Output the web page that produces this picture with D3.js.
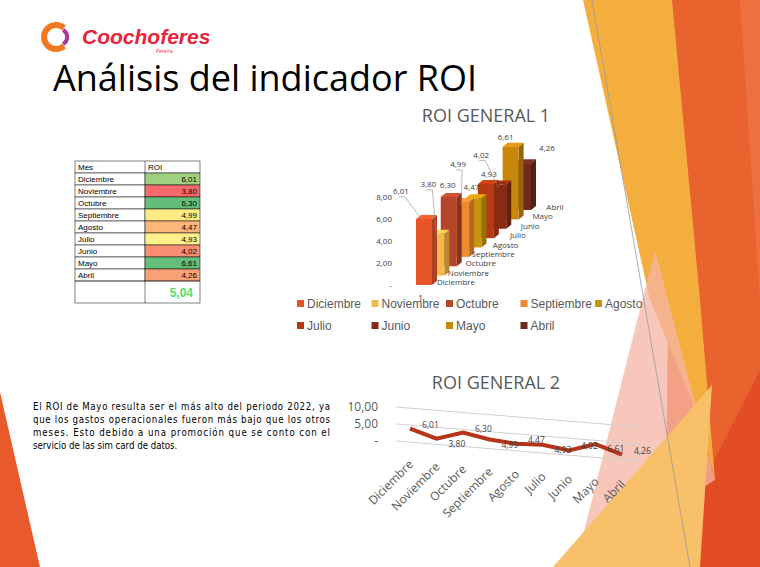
<!DOCTYPE html>
<html><head><meta charset="utf-8">
<script src="https://cdn.jsdelivr.net/npm/d3@7"></script>
<style>body{margin:0;background:#fff}svg{display:block;font-family:"Open Sans",sans-serif}</style>
</head><body>
<script>
// data
var months = ["Diciembre","Noviembre","Octubre","Septiembre","Agosto","Julio","Junio","Mayo","Abril"];
var roi = [6.01, 3.80, 6.30, 4.99, 4.47, 4.93, 4.02, 6.61, 4.26];
var roiAvg = 5.04;
var barColors = ["#e8542a","#f5b84a","#b5462a","#f08a30","#c8960c","#b83a12","#8a2a14","#c8860a","#6e2a1a"];
var cellColors = ["#9fd07f","#f8696b","#63be7b","#ffeb84","#fcb57a","#fff08a","#f98e72","#63be7b","#f9a175"];
var axis1Ticks = [2, 4, 6, 8];
var axis2Ticks = [5, 10];
var labelOffsets = [[-23,-25],[-8,-47],[-1,-9],[-3,-35],[-2,-8],[3,-7],[-17,-27],[-5,-7],[24,-12]];

var fmt = function (v) { return v.toFixed(2).replace(".", ","); };

var svg = d3.select("body").append("svg").attr("width", 760).attr("height", 567);

// background shapes
svg.append("polygon").attr("points", "672,0 760,0 760,567 665,567").attr("fill", "#e9632e");
svg.append("polygon").attr("points", "740,0 760,0 760,300").attr("fill", "#ec7040");
svg.append("polygon").attr("points", "760,370 760,567 660,567").attr("fill", "#e34d26");
svg.append("polygon").attr("points", "583,0 672,0 700,300 715,480 700,420 650,300").attr("fill", "#f4ae3e");
svg.append("polygon").attr("points", "655,250 715,480 575,567").attr("fill", "#f5b4a6").attr("opacity", 0.75);
svg.append("polygon").attr("points", "553,567 712,385 700,567").attr("fill", "#f9c06a");
svg.append("polygon").attr("points", "0,392 40,567 0,567").attr("fill", "#e9592c");
svg.append("line").attr("x1", 592).attr("y1", 0).attr("x2", 690).attr("y2", 567).attr("stroke", "#999").attr("stroke-width", 0.8);

// logo
var logo = svg.append("g");
logo.append("path").attr("d", "M64,28 A12,12 0 1,0 64,46").attr("fill", "none").attr("stroke", "#f07820").attr("stroke-width", 6);
logo.append("path").attr("d", "M63,30 A8,8 0 0,1 63,44").attr("fill", "none").attr("stroke", "#a83a9a").attr("stroke-width", 4);
logo.append("text").attr("x", 82).attr("y", 44).attr("font-size", 21).attr("font-weight", "bold").attr("font-style", "italic")
  .attr("fill", "#e8233a").attr("font-family", "Liberation Sans").text("Coochoferes");
logo.append("text").attr("x", 156).attr("y", 53).attr("font-size", 5).attr("fill", "#e8233a").text("Pereira");

svg.append("text").attr("x", 53).attr("y", 91).attr("font-size", 36).attr("fill", "#000").text("Análisis del indicador ROI");

// table
var tbl = svg.append("g").attr("font-size", 8).attr("font-family", "Liberation Sans");
var rowH = 12, tx = 75, ty = 161;
tbl.append("rect").attr("x", tx).attr("y", ty).attr("width", 125).attr("height", rowH).attr("fill", "#fff").attr("stroke", "#000").attr("stroke-width", 0.5);
tbl.append("line").attr("x1", 145).attr("x2", 145).attr("y1", ty).attr("y2", ty + rowH * 10 + 22).attr("stroke", "#000").attr("stroke-width", 0.5);
tbl.append("text").attr("x", tx + 3).attr("y", ty + 9).text("Mes");
tbl.append("text").attr("x", 148).attr("y", ty + 9).text("ROI");
months.forEach(function (m, i) {
  var y = ty + rowH * (i + 1);
  tbl.append("rect").attr("x", tx).attr("y", y).attr("width", 70).attr("height", rowH).attr("fill", "#fff").attr("stroke", "#000").attr("stroke-width", 0.5);
  tbl.append("rect").attr("x", 145).attr("y", y).attr("width", 55).attr("height", rowH).attr("fill", cellColors[i]).attr("stroke", "#000").attr("stroke-width", 0.5);
  tbl.append("text").attr("x", tx + 3).attr("y", y + 9).text(m);
  tbl.append("text").attr("x", 197).attr("y", y + 9).attr("text-anchor", "end").text(fmt(roi[i]));
});
tbl.append("rect").attr("x", tx).attr("y", ty + rowH * 10).attr("width", 125).attr("height", 22).attr("fill", "none").attr("stroke", "#000").attr("stroke-width", 0.5);
tbl.append("text").attr("x", 193).attr("y", ty + rowH * 10 + 16).attr("text-anchor", "end").attr("font-size", 12)
  .attr("font-weight", "bold").attr("fill", "#4ee06a").text(fmt(roiAvg));

// ---- ROI GENERAL 1 (pseudo 3D columns) ----
svg.append("text").attr("x", 486).attr("y", 122).attr("text-anchor", "middle").attr("font-size", 18).attr("fill", "#595959").text("ROI GENERAL 1");
var y1 = d3.scaleLinear().domain([0, 8]).range([285, 197]);
var depth = d3.scaleLinear().domain([0, months.length - 1]).range([0, 1]);
var dxMax = 99, dyMax = -75, bw = 16, sd = 5;
var c1 = svg.append("g").attr("font-size", 8).attr("fill", "#404040");
axis1Ticks.forEach(function (t) {
  c1.append("text").attr("x", 392).attr("y", y1(t) + 3).attr("text-anchor", "end").text(fmt(t));
});
c1.append("text").attr("x", 392).attr("y", y1(0) + 3).attr("text-anchor", "end").text("-");
c1.append("text").attr("x", 418).attr("y", 302).attr("font-size", 9).text("1");
// draw back to front
d3.range(months.length - 1, -1, -1).forEach(function (i) {
  var ox = 416 + depth(i) * dxMax, oy = depth(i) * dyMax;
  var top = y1(roi[i]) + oy, base = y1(0) + oy;
  var col = d3.color(barColors[i]);
  c1.append("polygon").attr("points", [[ox + bw, top], [ox + bw + sd, top - 4], [ox + bw + sd, base - 4], [ox + bw, base]].join(" ")).attr("fill", col.darker(0.8));
  c1.append("polygon").attr("points", [[ox, top], [ox + sd, top - 4], [ox + bw + sd, top - 4], [ox + bw, top]].join(" ")).attr("fill", col.brighter(0.4));
  c1.append("rect").attr("x", ox).attr("y", top).attr("width", bw).attr("height", base - top).attr("fill", col);
  c1.append("text").attr("x", ox + 40).attr("y", base).attr("text-anchor", "middle").text(months[i]);
});
months.forEach(function (m, i) {
  var ox = 416 + depth(i) * dxMax, oy = depth(i) * dyMax;
  var top = y1(roi[i]) + oy, xc = ox + bw / 2;
  var lx = xc + labelOffsets[i][0], ly = top + labelOffsets[i][1];
  if (labelOffsets[i][1] < -12) {
    c1.append("polyline").attr("points", [[xc, top + 3], [lx + 4, ly + 3], [lx - 2, ly + 3]].join(" ")).attr("fill", "none").attr("stroke", "#8a8a8a").attr("stroke-width", 0.6);
  }
  c1.append("text").attr("x", lx).attr("y", ly).attr("text-anchor", "middle").text(fmt(roi[i]));
});
// legend
var leg = svg.append("g").attr("font-size", 12).attr("fill", "#595959").attr("font-family", "Liberation Sans");
months.forEach(function (m, i) {
  var col = i % 5, row = Math.floor(i / 5);
  var lx = 297 + col * 74.5, ly = 304 + row * 22;
  leg.append("rect").attr("x", lx).attr("y", ly - 4).attr("width", 7).attr("height", 7).attr("fill", barColors[i]);
  leg.append("text").attr("x", lx + 10).attr("y", ly + 4).text(m);
});

// paragraph
var para = ["El ROI de Mayo resulta ser el más alto del periodo 2022, ya",
  "que los gastos operacionales fueron más bajo que los otros",
  "meses. Esto debido a una promoción que se conto con el",
  "servicio de las sim card de datos."];
svg.append("g").attr("font-size", 9.6).attr("font-family", "DejaVu Sans Condensed, sans-serif").selectAll("text").data(para).enter().append("text")
  .attr("x", 33).attr("y", function (d, i) { return 410 + i * 13; })
  .attr("textLength", function (d, i) { return i < 3 ? 297 : null; })
  .text(function (d) { return d; });

// ---- ROI GENERAL 2 (line with slanted floor) ----
svg.append("text").attr("x", 496).attr("y", 389).attr("text-anchor", "middle").attr("font-size", 18).attr("fill", "#595959").text("ROI GENERAL 2");
var x2 = d3.scalePoint().domain(months).range([410, 622]);
var y2 = d3.scaleLinear().domain([0, 10]).range([0, -34]);
var skew = 2.5, base2 = 449;
var by = function (i) { return base2 + i * skew; };
var c2 = svg.append("g").attr("font-size", 12).attr("fill", "#595959");
[0].concat(axis2Ticks).forEach(function (t) {
  c2.append("line").attr("x1", 396).attr("y1", base2 - 8 + y2(t)).attr("x2", 640).attr("y2", base2 + 12 + y2(t))
    .attr("stroke", "#d0d0d0").attr("stroke-width", 1);
  c2.append("text").attr("x", 378).attr("y", base2 - 4 + y2(t)).attr("text-anchor", "end").text(t === 0 ? "-" : fmt(t));
});
var line2 = d3.line().x(function (d, i) { return x2(months[i]); }).y(function (d, i) { return by(i) + y2(d); });
c2.append("path").datum(roi).attr("d", line2).attr("fill", "none").attr("stroke", "#b5341a").attr("stroke-width", 4).attr("stroke-linejoin", "miter");
roi.forEach(function (v, i) {
  c2.append("text").attr("x", x2(months[i]) + 12).attr("y", by(i) + y2(v) + (i % 2 ? 8 : -1)).attr("font-size", 8.5).attr("fill", "#404040").text(fmt(v));
  c2.append("text").attr("transform", "translate(" + (x2(months[i]) + 4) + "," + (by(i) + 16) + ") rotate(-45)")
    .attr("text-anchor", "end").text(months[i]);
});
</script>
</body></html>
